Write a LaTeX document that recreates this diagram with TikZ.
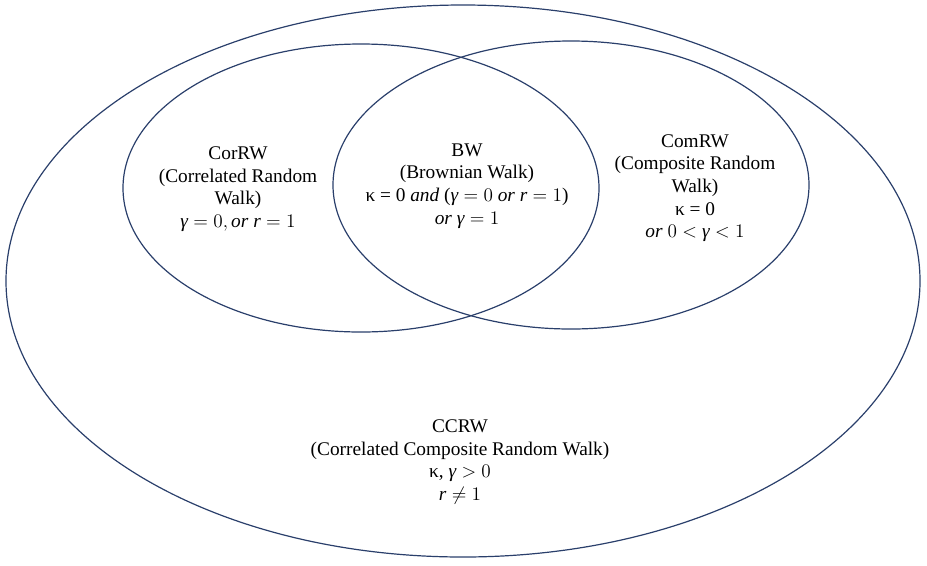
\documentclass[tikz,border=0pt]{standalone}
\usepackage{fontspec}
\setmainfont{Liberation Serif}
\usepackage{amssymb}
\usepackage{tikz}
\usepackage{xcolor}
\usetikzlibrary{
    calc,
    positioning
}
\definecolor{setline}{HTML}{2A3F6B}
\newcommand{\gam}{\textit{γ}}

\begin{document}
\begin{tikzpicture}[x=0.75pt, y=-0.75pt,
    setlabel/.style={align=center, font=\fontsize{14.5}{17}\selectfont, inner sep=0pt}]
                        \useasboundingbox (0, 0) rectangle (927, 565);
                        \draw[setline, line width=0.9pt] (463, 281) ellipse [x radius=457, y radius=276];
                        \draw[setline, line width=0.9pt] (361, 188) ellipse [x radius=238, y radius=144];
                        \draw[setline, line width=0.9pt] (571, 185) ellipse [x radius=238, y radius=144];
                        \node[setlabel] (corrw) at (238, 189) {CorRW\\(Correlated Random\\Walk)\\$\gam = 0,$\,\textit{or} $\textit{r} = 1$};
                        \node[setlabel] (bw) at (467, 186) {BW\\(Brownian Walk)\\κ = 0 \textit{and} ($\gam = 0$ \textit{or} $\textit{r} = 1$)\\\textit{or} $\gam = 1$};
                        \node[setlabel] (comrw) at (695, 188) {ComRW\\(Composite Random\\Walk)\\κ = 0\\\textit{or} $0 < \gam < 1$};
                        \node[setlabel] (ccrw) at (460, 462) {CCRW\\(Correlated Composite Random Walk)\\κ, $\gam > 0$\\$\textit{r} \neq 1$};
                    \end{tikzpicture}
\end{document}
